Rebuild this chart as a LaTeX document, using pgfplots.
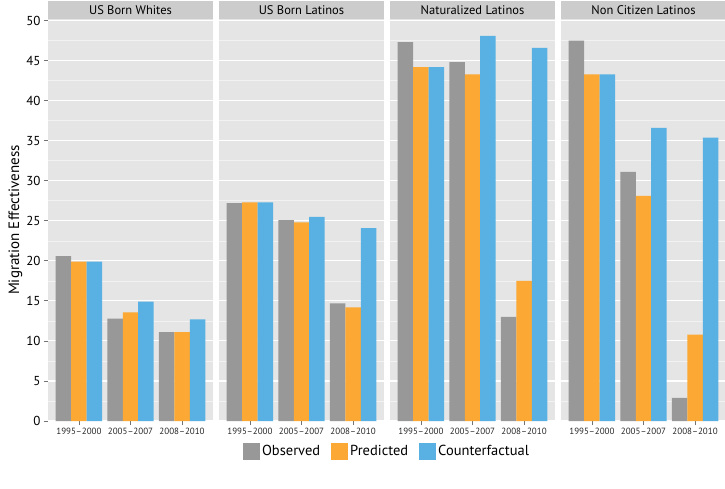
\documentclass[border=0pt]{standalone}
\usepackage{fontspec}
\setmainfont{PT Sans}
\usepackage{pgfplots}
\pgfplotsset{compat=1.18}
\usepackage{pgfplotstable}
\usepgfplotslibrary{groupplots}

\definecolor{obs}{RGB}{152,152,152}
\definecolor{pred}{RGB}{251,168,52}
\definecolor{cf}{RGB}{88,177,226}
\definecolor{panelbg}{RGB}{229,229,229}
\definecolor{stripbg}{RGB}{204,204,204}
\definecolor{minorgrid}{RGB}{242,242,242}

% columns: period index, observed, predicted, counterfactual
\pgfplotstableread{
x obs pred cf
1 20.6 19.9 19.9
2 12.8 13.55 14.9
3 11.1 11.1 12.7
}\whites
\pgfplotstableread{
x obs pred cf
1 27.2 27.3 27.3
2 25.1 24.8 25.5
3 14.7 14.2 24.1
}\usborn
\pgfplotstableread{
x obs pred cf
1 47.3 44.2 44.2
2 44.8 43.3 48.1
3 13.0 17.5 46.6
}\natur
\pgfplotstableread{
x obs pred cf
1 47.5 43.3 43.3
2 31.1 28.1 36.6
3 2.9 10.8 35.4
}\noncit

\pgfplotsset{
  panel/.style={
    scale only axis, width=165pt, height=402pt,
    ybar=0pt, bar width=0.3,
    xmin=0.4, xmax=3.6, ymin=0, ymax=50.2,
    xtick={1,2,3},
    xticklabels={1995--2000,2005--2007,2008--2010},
    ytick={0,5,...,50}, minor y tick num=1,
    axis lines*=left, axis line style={draw=none},
    axis background/.style={fill=panelbg},
    ymajorgrids, yminorgrids,
    major grid style={white, line width=1.1pt},
    minor grid style={minorgrid, line width=0.6pt},
    tick align=outside, major tick length=4pt, minor tick length=0pt,
    tick style={color=black!55, line width=0.8pt},
    xticklabel style={font=\fontsize{9}{9}\selectfont, text=black!85},
    yticklabel style={font=\fontsize{13}{13}\selectfont},
    /pgf/number format/assume math mode=true,
    every axis title shift=0pt,
    title style={at={(rel axis cs:0.5,1)}, anchor=south, yshift=0pt,
      fill=stripbg, minimum width=165pt, minimum height=18pt,
      inner sep=0pt, font=\fontsize{12.5}{12.5}\selectfont},
    legend image code/.code={\fill[##1] (0pt,-8.5pt) rectangle (17pt,8.5pt);},
    clip=false,
  },
}

\begin{document}
\begin{tikzpicture}
\begin{groupplot}[
  group style={group size=4 by 1, horizontal sep=6pt},
  panel,
]
\nextgroupplot[title={US Born Whites},
  ylabel={Migration Effectiveness},
  ylabel style={font=\fontsize{15}{15}\selectfont},
  ylabel shift=-3pt,
  legend style={at={(2.055,-0.075)}, anchor=center, draw=none, fill=none,
    legend columns=3, font=\fontsize{14.5}{16}\selectfont,
    /tikz/every even column/.append style={column sep=9pt}},
]
\coordinate (o) at (rel axis cs:0,0);
\addplot[fill=obs, draw=none] table[x=x, y=obs] {\whites};
\addplot[fill=pred, draw=none] table[x=x, y=pred] {\whites};
\addplot[fill=cf, draw=none] table[x=x, y=cf] {\whites};
\legend{Observed, Predicted, Counterfactual}

\nextgroupplot[title={US Born Latinos}, yticklabels={}, ytick style={draw=none}]
\addplot[fill=obs, draw=none] table[x=x, y=obs] {\usborn};
\addplot[fill=pred, draw=none] table[x=x, y=pred] {\usborn};
\addplot[fill=cf, draw=none] table[x=x, y=cf] {\usborn};

\nextgroupplot[title={Naturalized Latinos}, yticklabels={}, ytick style={draw=none}]
\addplot[fill=obs, draw=none] table[x=x, y=obs] {\natur};
\addplot[fill=pred, draw=none] table[x=x, y=pred] {\natur};
\addplot[fill=cf, draw=none] table[x=x, y=cf] {\natur};

\nextgroupplot[title={Non Citizen Latinos}, yticklabels={}, ytick style={draw=none}]
\addplot[fill=obs, draw=none] table[x=x, y=obs] {\noncit};
\addplot[fill=pred, draw=none] table[x=x, y=pred] {\noncit};
\addplot[fill=cf, draw=none] table[x=x, y=cf] {\noncit};
\end{groupplot}
\pgfresetboundingbox
\path ([shift={(-48pt,-67pt)}]o) rectangle ([shift={(677pt,421pt)}]o);
\end{tikzpicture}
\end{document}
